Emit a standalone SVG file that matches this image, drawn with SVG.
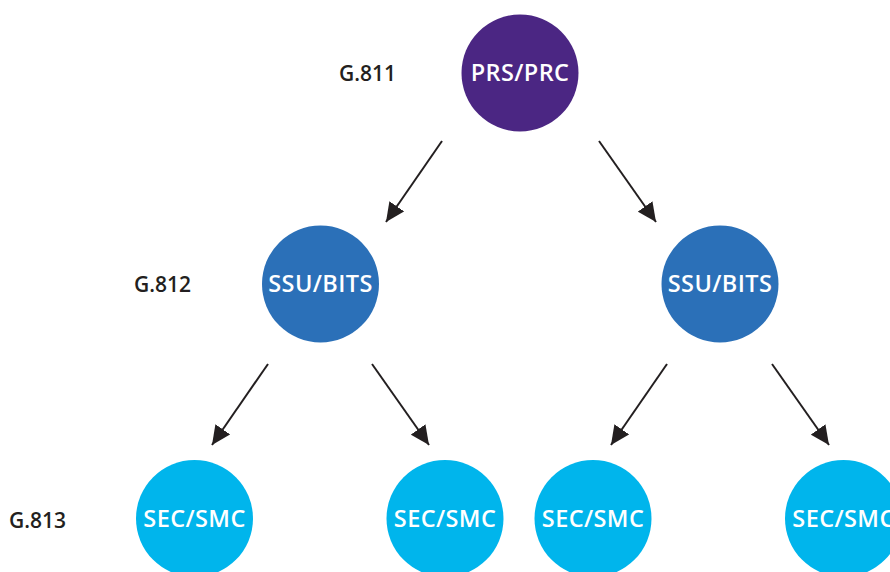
<svg xmlns="http://www.w3.org/2000/svg" width="890" height="572" viewBox="0 0 890 572">
  <style>
    .node text { font-family: "Open Sans", "Liberation Sans", sans-serif; font-weight: 600; font-size: 23.5px; letter-spacing: 0.4px; fill: #ffffff; text-anchor: middle; }
    .level { font-family: "Open Sans", "Liberation Sans", sans-serif; font-weight: 600; font-size: 21px; fill: #231f20; }
    .prs { fill: #4b2683; }
    .ssu { fill: #2b70b8; }
    .sec { fill: #00b5ec; }
    .edge { stroke: #231f20; stroke-width: 2; fill: none; marker-end: url(#arrow); }
  </style>
  <defs>
    <marker id="arrow" markerUnits="userSpaceOnUse" markerWidth="20" markerHeight="18" refX="19" refY="9" orient="auto">
      <path d="M0,0 L19,9 L0,18 Z" fill="#231f20"/>
    </marker>
  </defs>
  <rect width="890" height="572" fill="#ffffff"/>

  <!-- level labels -->
  <text class="level" x="339" y="81">G.811</text>
  <text class="level" x="134" y="292">G.812</text>
  <text class="level" x="9" y="528">G.813</text>

  <!-- connectors -->
  <g id="connectors">
    <line class="edge" x1="442" y1="141" x2="386" y2="222"/>
    <line class="edge" x1="599" y1="141" x2="656" y2="222"/>
    <line class="edge" x1="268" y1="364" x2="212" y2="445"/>
    <line class="edge" x1="372" y1="364" x2="429" y2="445"/>
    <line class="edge" x1="667" y1="364" x2="611" y2="445"/>
    <line class="edge" x1="772" y1="364" x2="829" y2="445"/>
  </g>

  <g id="prs" class="node">
    <circle class="prs" cx="520" cy="73" r="58.5"/>
    <text x="520" y="81">PRS/PRC</text>
  </g>
  <g id="ssu-left" class="node">
    <circle class="ssu" cx="320.5" cy="284" r="58.5"/>
    <text x="320.5" y="292">SSU/BITS</text>
  </g>
  <g id="ssu-right" class="node">
    <circle class="ssu" cx="720" cy="284" r="58.5"/>
    <text x="720" y="292">SSU/BITS</text>
  </g>
  <g id="sec-1" class="node">
    <circle class="sec" cx="194.5" cy="518.5" r="58.5"/>
    <text x="194.5" y="527">SEC/SMC</text>
  </g>
  <g id="sec-2" class="node">
    <circle class="sec" cx="445" cy="518.5" r="58.5"/>
    <text x="445" y="527">SEC/SMC</text>
  </g>
  <g id="sec-3" class="node">
    <circle class="sec" cx="593" cy="518.5" r="58.5"/>
    <text x="593" y="527">SEC/SMC</text>
  </g>
  <g id="sec-4" class="node">
    <circle class="sec" cx="843.5" cy="518.5" r="58.5"/>
    <text x="843.5" y="527">SEC/SMC</text>
  </g>
</svg>
